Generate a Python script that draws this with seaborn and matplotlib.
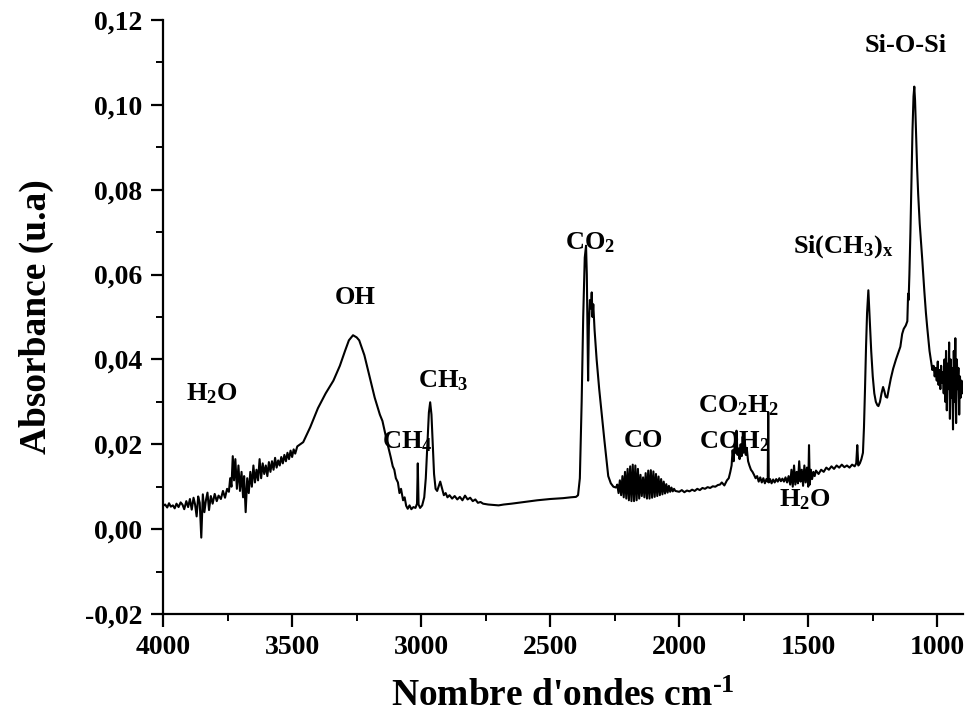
# Spectre FTIR - absorbance vs nombre d'ondes

import numpy as np
import pandas as pd
import matplotlib
matplotlib.use("Agg")
import matplotlib.pyplot as plt
from matplotlib.ticker import MultipleLocator, FuncFormatter
import seaborn as sns

# Region 4000-3460 : bruit + H2O
wn_h2o = [4000, 3992, 3984, 3977, 3970, 3962, 3955, 3948, 3940, 3932, 3925, 3918, 3910,
          3903, 3896, 3889, 3882, 3876, 3870, 3864, 3858, 3852, 3846, 3840, 3834, 3828,
          3822, 3815, 3808, 3800, 3792, 3785, 3776, 3768, 3760, 3752, 3745, 3740, 3735,
          3730, 3725, 3720, 3714, 3708, 3702, 3696, 3690, 3686, 3680, 3674, 3668, 3662,
          3656, 3650, 3644, 3638, 3632, 3626, 3620, 3614, 3608, 3602, 3596, 3590, 3584,
          3578, 3572, 3566, 3560, 3554, 3548, 3542, 3536, 3530, 3524, 3518, 3512, 3506,
          3500, 3494, 3488, 3480]
abs_h2o = [0.0055, 0.0058, 0.0051, 0.0061, 0.0053, 0.0056, 0.0049, 0.0060, 0.0052, 0.0063,
           0.0058, 0.0047, 0.0066, 0.0052, 0.0071, 0.0046, 0.0074, 0.0058, 0.0030, 0.0077,
           0.0062, -0.0020, 0.0082, 0.0040, 0.0068, 0.0086, 0.0045, 0.0078, 0.0060, 0.0083,
           0.0066, 0.0079, 0.0071, 0.0090, 0.0074, 0.0095, 0.0088, 0.0120, 0.0100, 0.0172,
           0.0115, 0.0165, 0.0095, 0.0150, 0.0090, 0.0135, 0.0075, 0.0125, 0.0040, 0.0120,
           0.0085, 0.0135, 0.0100, 0.0150, 0.0110, 0.0140, 0.0115, 0.0165, 0.0120, 0.0155,
           0.0130, 0.0150, 0.0125, 0.0158, 0.0135, 0.0160, 0.0140, 0.0168, 0.0145, 0.0162,
           0.0150, 0.0170, 0.0155, 0.0175, 0.0160, 0.0180, 0.0165, 0.0185, 0.0170, 0.0188,
           0.0178, 0.0195]

# Bande OH
wn_oh = [3457, 3430, 3400, 3370, 3340, 3315, 3295, 3280, 3264, 3250, 3240, 3220, 3200,
         3180, 3160, 3150, 3130, 3118, 3110, 3104, 3098, 3090, 3084, 3078, 3070, 3064]
abs_oh = [0.0205, 0.0240, 0.0285, 0.0320, 0.0350, 0.0385, 0.0420, 0.0445, 0.0457, 0.0452,
          0.0445, 0.0410, 0.0360, 0.0310, 0.0270, 0.0255, 0.0200, 0.0170, 0.0148, 0.0140,
          0.0120, 0.0110, 0.0085, 0.0095, 0.0068, 0.0075]

# CH4 / CH3
wn_ch = [3058, 3052, 3045, 3038, 3030, 3022, 3016, 3013, 3010, 3004, 2996, 2988, 2982,
         2976, 2970, 2965, 2960, 2955, 2950, 2944, 2938, 2930, 2926, 2920, 2912, 2905,
         2898, 2890, 2880, 2870, 2860, 2850, 2840, 2830, 2820, 2810, 2800, 2790, 2780,
         2770, 2760, 2740, 2720, 2700, 2680, 2650, 2600, 2550, 2500, 2450, 2420]
abs_ch = [0.0055, 0.0048, 0.0056, 0.0047, 0.0052, 0.0050, 0.0060, 0.0155, 0.0058, 0.0050,
          0.0056, 0.0075, 0.0120, 0.0200, 0.0275, 0.0299, 0.0270, 0.0200, 0.0130, 0.0095,
          0.0090, 0.0105, 0.0112, 0.0098, 0.0080, 0.0085, 0.0075, 0.0080, 0.0072, 0.0078,
          0.0070, 0.0076, 0.0068, 0.0079, 0.0070, 0.0074, 0.0066, 0.0070, 0.0062, 0.0064,
          0.0060, 0.0058, 0.0057, 0.0056, 0.0058, 0.0060, 0.0064, 0.0068, 0.0071, 0.0073,
          0.0075]

# CO2
wn_co2 = [2400, 2392, 2385, 2378, 2372, 2366, 2361, 2358, 2355, 2353, 2350, 2346, 2342,
          2339, 2336, 2333, 2328, 2320, 2310, 2300, 2290, 2282, 2275, 2265, 2255, 2245]
abs_co2 = [0.0076, 0.0080, 0.0120, 0.0300, 0.0500, 0.0640, 0.0668, 0.0600, 0.0450, 0.0350,
           0.0480, 0.0540, 0.0520, 0.0558, 0.0500, 0.0530, 0.0470, 0.0400, 0.0330, 0.0270,
           0.0210, 0.0165, 0.0125, 0.0108, 0.0100, 0.0098]

# CO (raies rotationnelles)
wn_co = [2240, 2235, 2230, 2225, 2220, 2215, 2210, 2205, 2200, 2195, 2190, 2185, 2180,
         2175, 2170, 2165, 2160, 2155, 2150, 2145, 2140, 2135, 2130, 2125, 2120, 2115,
         2110, 2105, 2100, 2095, 2090, 2085, 2080, 2075, 2070, 2065, 2060, 2055, 2050,
         2045, 2040, 2035, 2030, 2025, 2020]
abs_co = [0.0105, 0.0085, 0.0115, 0.0080, 0.0125, 0.0075, 0.0135, 0.0072, 0.0142, 0.0068,
          0.0148, 0.0066, 0.0152, 0.0066, 0.0150, 0.0068, 0.0142, 0.0072, 0.0128, 0.0078,
          0.0122, 0.0075, 0.0132, 0.0072, 0.0138, 0.0072, 0.0139, 0.0074, 0.0136, 0.0076,
          0.0130, 0.0078, 0.0124, 0.0080, 0.0118, 0.0082, 0.0112, 0.0084, 0.0106, 0.0086,
          0.0102, 0.0088, 0.0098, 0.0089, 0.0095]

# 2015-1300 : CO2H2, COH2, H2O
wn_mid = [2015, 2000, 1990, 1980, 1970, 1960, 1950, 1940, 1930, 1920, 1910, 1900, 1890,
          1880, 1870, 1860, 1850, 1842, 1835, 1825, 1815, 1808, 1802, 1797, 1793, 1789,
          1785, 1781, 1778, 1774, 1770, 1766, 1762, 1758, 1754, 1750, 1746, 1742, 1738,
          1733, 1728, 1722, 1716, 1710, 1704, 1698, 1692, 1686, 1680, 1674, 1668, 1662,
          1657, 1655, 1653, 1648, 1642, 1636, 1630, 1624, 1618, 1612, 1606, 1600, 1594,
          1588, 1582, 1576, 1570, 1565, 1560, 1555, 1550, 1545, 1540, 1535, 1530, 1525,
          1520, 1515, 1510, 1505, 1500, 1497, 1494, 1490, 1485, 1480, 1475, 1470, 1460,
          1450, 1440, 1430, 1420, 1410, 1400, 1390, 1380, 1370, 1360, 1350, 1340, 1330,
          1320, 1314, 1310, 1306]
abs_mid = [0.0090, 0.0088, 0.0092, 0.0087, 0.0091, 0.0089, 0.0093, 0.0090, 0.0095, 0.0092,
           0.0097, 0.0095, 0.0099, 0.0097, 0.0101, 0.0100, 0.0104, 0.0105, 0.0110, 0.0103,
           0.0115, 0.0120, 0.0135, 0.0150, 0.0186, 0.0160, 0.0200, 0.0180, 0.0232, 0.0175,
           0.0190, 0.0165, 0.0200, 0.0172, 0.0218, 0.0180, 0.0210, 0.0175, 0.0190, 0.0160,
           0.0150, 0.0140, 0.0135, 0.0128, 0.0120, 0.0125, 0.0112, 0.0122, 0.0110, 0.0120,
           0.0108, 0.0118, 0.0112, 0.0276, 0.0110, 0.0118, 0.0108, 0.0117, 0.0110, 0.0118,
           0.0112, 0.0120, 0.0113, 0.0119, 0.0112, 0.0122, 0.0110, 0.0125, 0.0105, 0.0140,
           0.0100, 0.0150, 0.0105, 0.0135, 0.0108, 0.0160, 0.0112, 0.0140, 0.0102, 0.0150,
           0.0110, 0.0145, 0.0100, 0.0198, 0.0105, 0.0140, 0.0118, 0.0135, 0.0125, 0.0138,
           0.0130, 0.0140, 0.0135, 0.0145, 0.0140, 0.0148, 0.0142, 0.0150, 0.0145, 0.0152,
           0.0146, 0.0150, 0.0145, 0.0152, 0.0148, 0.0155, 0.0198, 0.0150]

# Si(CH3)x et Si-O-Si
wn_si = [1300, 1294, 1288, 1284, 1280, 1276, 1272, 1267, 1262, 1256, 1250, 1244, 1238,
         1232, 1228, 1222, 1216, 1210, 1205, 1200, 1194, 1188, 1180, 1171, 1160, 1150,
         1143, 1136, 1130, 1122, 1116, 1113, 1111, 1108, 1104, 1100, 1096, 1092, 1089,
         1086, 1082, 1078, 1074, 1068, 1062, 1058, 1050, 1044, 1039, 1030, 1024, 1019,
         1014, 1010]
abs_si = [0.0155, 0.0165, 0.0180, 0.0240, 0.0330, 0.0430, 0.0510, 0.0563, 0.0500, 0.0420,
          0.0360, 0.0320, 0.0300, 0.0292, 0.0290, 0.0300, 0.0320, 0.0335, 0.0325, 0.0312,
          0.0310, 0.0330, 0.0355, 0.0378, 0.0400, 0.0418, 0.0430, 0.0460, 0.0472, 0.0480,
          0.0490, 0.0555, 0.0540, 0.0600, 0.0700, 0.0820, 0.0940, 0.1020, 0.1043, 0.1010,
          0.0930, 0.0850, 0.0790, 0.0720, 0.0670, 0.0634, 0.0560, 0.0510, 0.0476, 0.0420,
          0.0395, 0.0375, 0.0385, 0.0360]

# Bruit en fin de spectre
wn_end = [1006, 1002, 998, 995, 992, 988, 985, 982, 978, 975, 972, 969, 966, 963, 960,
          957, 954, 951, 948, 945, 942, 939, 936, 933, 930, 927, 924, 921, 918, 915, 912,
          909, 906, 903]
abs_end = [0.0380, 0.0350, 0.0395, 0.0340, 0.0375, 0.0330, 0.0385, 0.0345, 0.0370, 0.0320,
           0.0400, 0.0300, 0.0420, 0.0280, 0.0390, 0.0330, 0.0440, 0.0260, 0.0400, 0.0310,
           0.0380, 0.0235, 0.0420, 0.0300, 0.0450, 0.0250, 0.0400, 0.0330, 0.0380, 0.0270,
           0.0360, 0.0310, 0.0350, 0.0320]

# Etiquettes des bandes
band_labels = ["H$_2$O", "OH", "CH$_4$", "CH$_3$", "CO$_2$", "CO", "CO$_2$H$_2$",
               "COH$_2$", "H$_2$O", "Si(CH$_3$)$_x$", "Si-O-Si"]
label_wn = [3810, 3256, 3055, 2915, 2345, 2140, 1771, 1785, 1512, 1364, 1124]
label_abs = [0.0320, 0.0545, 0.0205, 0.0350, 0.0675, 0.0210, 0.0290, 0.0207, 0.0070, 0.0665, 0.1140]

x_ticks = [4000, 3500, 3000, 2500, 2000, 1500, 1000]

spec = pd.DataFrame({
    "wn": np.concatenate([wn_h2o, wn_oh, wn_ch, wn_co2, wn_co, wn_mid, wn_si, wn_end]),
    "absorbance": np.concatenate([abs_h2o, abs_oh, abs_ch, abs_co2, abs_co, abs_mid, abs_si, abs_end]),
})

sns.set_style("ticks")
plt.rcParams["font.family"] = ["Liberation Serif", "DejaVu Serif"]
plt.rcParams["font.weight"] = "bold"
plt.rcParams["mathtext.fontset"] = "custom"
plt.rcParams["mathtext.rm"] = "Liberation Serif:bold"
plt.rcParams["mathtext.it"] = "Liberation Serif:bold"
plt.rcParams["mathtext.bf"] = "Liberation Serif:bold"
plt.rcParams["mathtext.default"] = "rm"
for key in ["text.color", "axes.labelcolor", "xtick.color", "ytick.color", "axes.edgecolor"]:
    plt.rcParams[key] = "black"

fig = plt.figure(figsize=(9.65, 7.22), dpi=100)
ax = fig.add_axes([0.169, 0.1496, 0.829, 0.8227])

sns.lineplot(data=spec, x="wn", y="absorbance", sort=False, estimator=None,
             color="black", lw=1.5, ax=ax)

for txt, xw, ya in zip(band_labels, label_wn, label_abs):
    ax.text(xw, ya, txt, ha="center", va="center", fontsize=19, fontweight="bold",
            color="black")

ax.set_xlim(4000, 900)
ax.set_ylim(-0.02, 0.12)
ax.set_xticks(x_ticks)
ax.xaxis.set_minor_locator(MultipleLocator(250))
ax.yaxis.set_major_locator(MultipleLocator(0.02))
ax.yaxis.set_minor_locator(MultipleLocator(0.01))
ax.yaxis.set_major_formatter(FuncFormatter(lambda v, p: f"{v:.2f}".replace(".", ",")))
ax.xaxis.set_major_formatter(FuncFormatter(lambda v, p: f"{v:.0f}"))

ax.tick_params(which="major", direction="out", length=9, width=1.6, labelsize=20,
               color="black", labelcolor="black", pad=6)
ax.tick_params(which="minor", direction="out", length=5, width=1.4, color="black")
for lbl in ax.get_xticklabels() + ax.get_yticklabels():
    lbl.set_fontweight("bold")

sns.despine(ax=ax)
for side in ["left", "bottom"]:
    ax.spines[side].set_linewidth(1.6)
    ax.spines[side].set_color("black")

ax.set_xlabel("Nombre d'ondes cm$^{\\text{-1}}$", fontsize=27, fontweight="bold",
              labelpad=14, color="black")
ax.set_ylabel("Absorbance (u.a)", fontsize=27, fontweight="bold", labelpad=22,
              color="black")

fig.savefig("out.png", dpi=100)
